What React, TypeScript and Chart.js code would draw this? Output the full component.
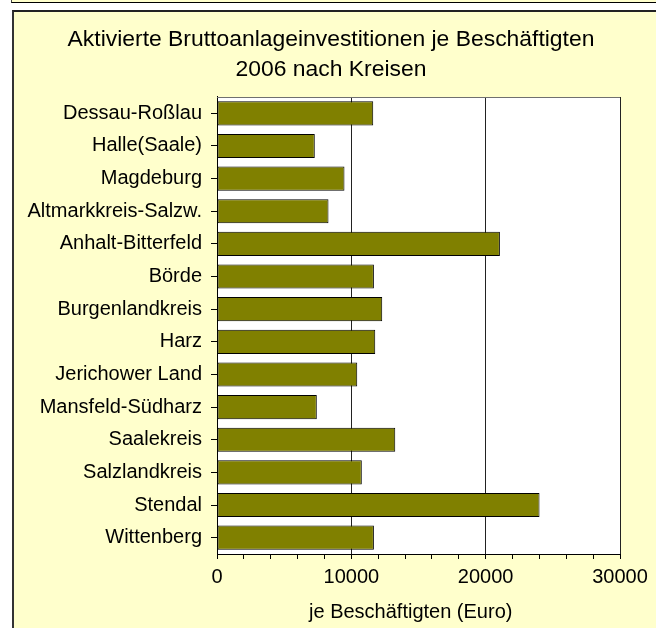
import React, { useEffect, useRef } from "react";
import { Chart, registerables } from "chart.js";

Chart.register(...registerables);

const categories = [
  "Dessau-Roßlau",
  "Halle(Saale)",
  "Magdeburg",
  "Altmarkkreis-Salzw.",
  "Anhalt-Bitterfeld",
  "Börde",
  "Burgenlandkreis",
  "Harz",
  "Jerichower Land",
  "Mansfeld-Südharz",
  "Saalekreis",
  "Salzlandkreis",
  "Stendal",
  "Wittenberg",
];

const values = [11630, 7280, 9490, 8300, 21060, 11680, 12300, 11780, 10440, 7430, 13270, 10780, 24010, 11680];

const titleLines = ["Aktivierte Bruttoanlageinvestitionen je Beschäftigten", "2006 nach Kreisen"];
const xAxisTitle = "je Beschäftigten (Euro)";
const xMin = 0;
const xMax = 30000;
const xMinorStep = 2000;
const xMajorStep = 10000;

const FONT = 'Arial, "Liberation Sans", sans-serif';

const plotFramePlugin = {
  id: "plotFrame",
  beforeDraw(chart: any) {
    const { ctx, chartArea } = chart;
    ctx.save();
    ctx.fillStyle = "#ffffff";
    ctx.fillRect(chartArea.left, chartArea.top, chartArea.right - chartArea.left, chartArea.bottom - chartArea.top);
    ctx.restore();
  },
  beforeDatasetsDraw(chart: any) {
    const { ctx, chartArea } = chart;
    ctx.save();
    ctx.strokeStyle = "#707070";
    ctx.lineWidth = 1;
    ctx.beginPath();
    const y = Math.round(chartArea.top) + 0.5;
    ctx.moveTo(chartArea.left, y);
    ctx.lineTo(chartArea.right, y);
    ctx.stroke();
    ctx.restore();
  },
};

export default function App() {
  const canvasRef = useRef<HTMLCanvasElement | null>(null);

  useEffect(() => {
    if (!canvasRef.current) return;
    const chart = new Chart(canvasRef.current, {
      type: "bar",
      data: {
        labels: categories,
        datasets: [
          {
            data: values,
            xAxisID: "x",
            yAxisID: "y",
            backgroundColor: "#808000",
            borderColor: "#000000",
            borderWidth: 1,
            borderSkipped: false,
            barPercentage: 0.74,
            categoryPercentage: 1,
          },
        ],
      },
      options: {
        indexAxis: "y",
        animation: false,
        responsive: false,
        maintainAspectRatio: false,
        layout: { padding: { left: 10, right: 18, top: 0, bottom: 0 } },
        plugins: {
          legend: { display: false },
          tooltip: { enabled: false },
          title: {
            display: true,
            text: titleLines,
            color: "#000000",
            font: { family: FONT, size: 22.9, weight: "normal", lineHeight: 1.31 },
            padding: { top: 13, bottom: 12 },
          },
        },
        scales: {
          x: {
            type: "linear",
            position: "bottom",
            min: xMin,
            max: xMax,
            afterFit(scale: any) {
              scale.height = 74;
            },
            ticks: {
              stepSize: xMinorStep,
              autoSkip: false,
              maxRotation: 0,
              padding: 6,
              color: "#000000",
              font: { family: FONT, size: 20 },
              callback: (v: any) => (Number(v) % xMajorStep === 0 ? String(v) : ""),
            },
            grid: {
              display: true,
              drawOnChartArea: true,
              drawTicks: true,
              tickLength: 5,
              color: (ctx: any) =>
                ctx.tick && ctx.tick.value % xMajorStep === 0 ? "#222222" : "rgba(0,0,0,0)",
              tickColor: "#000000",
              lineWidth: 1,
            },
            border: { display: true, color: "#000000", width: 1 },
            title: {
              display: true,
              text: xAxisTitle + "\u2002 ",
              color: "#000000",
              font: { family: FONT, size: 20 },
              padding: { top: 4, bottom: 4 },
            },
          },
          y: {
            type: "category",
            position: "left",
            afterFit(scale: any) {
              scale.width = 193;
            },
            ticks: {
              autoSkip: false,
              padding: 9,
              color: "#000000",
              font: { family: FONT, size: 20 },
            },
            grid: {
              display: true,
              offset: false,
              drawOnChartArea: false,
              drawTicks: true,
              tickLength: 6,
              tickColor: "#000000",
              color: "#000000",
            },
            border: { display: true, color: "#000000", width: 1 },
          },
          yRight: {
            type: "category",
            position: "right",
            afterFit(scale: any) {
              scale.width = 18;
            },
            ticks: { display: false },
            grid: { display: false, drawTicks: false },
            border: { display: false },
          },
        },
      },
      plugins: [plotFramePlugin],
    } as any);
    return () => chart.destroy();
  }, []);

  return (
    <div
      style={{
        position: "fixed",
        left: 0,
        top: 0,
        width: 656,
        height: 628,
        background: "#ffffff",
        overflow: "hidden",
      }}
    >
      <div
        style={{
          position: "absolute",
          left: 11,
          top: 0,
          right: 0,
          height: 2,
          background: "#FFFFCC",
          borderBottom: "1px solid #000000",
          borderLeft: "1px solid #444444",
        }}
      />
      <div
        style={{
          position: "absolute",
          left: 12,
          top: 10,
          width: 642,
          height: 616,
          background: "#FFFFCC",
          borderLeft: "2px solid #333333",
          borderTop: "2px solid #222222",
        }}
      >
        <canvas ref={canvasRef} width={642} height={616} style={{ display: "block" }} />
      </div>
    </div>
  );
}
